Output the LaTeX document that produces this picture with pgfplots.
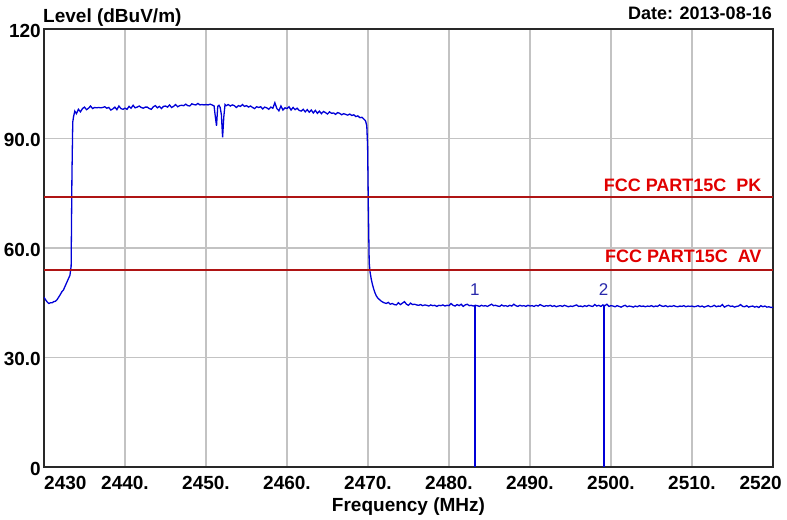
\documentclass[border=0pt]{standalone}
\usepackage{pgfplots}
\pgfplotsset{compat=1.18}
\usepackage{fontspec}
\setmainfont{Liberation Sans}
\definecolor{trace}{RGB}{0,0,215}
\definecolor{limline}{RGB}{175,20,20}
\definecolor{limtext}{RGB}{225,0,0}
\definecolor{gridc}{RGB}{195,195,195}
\definecolor{axc}{RGB}{40,40,40}
\definecolor{mk}{RGB}{40,40,170}
\newcommand{\bigb}{\fontsize{19bp}{22bp}\selectfont\bfseries}
\newcommand{\midb}{\fontsize{18bp}{21bp}\selectfont\bfseries}
\begin{document}
\begin{tikzpicture}
\begin{axis}[
  scale only axis, width=729bp, height=438bp,
  xmin=2430, xmax=2520, ymin=0, ymax=120,
  xtick={2430,2440,2450,2460,2470,2480,2490,2500,2510,2520},
  xticklabels={,2440.,2450.,2460.,2470.,2480.,2490.,2500.,2510.,},
  ytick={0,30,60,90,120},
  yticklabels={0,30.0,60.0,90.0,120},
  /pgf/number format/assume math mode=true,
  major tick length=0pt,
  grid=major,
  major grid style={gridc, line width=1.2bp},
  axis line style={axc, line width=1.6bp},
  xticklabel style={font=\bigb, anchor=north, inner sep=0pt, yshift=-9bp},
  yticklabel style={font=\bigb, anchor=east, inner sep=0pt, xshift=-3bp, yshift=-1.5bp},
  clip=true,
]
\addplot[trace, line width=1.3bp] coordinates {
(2430.0,46.5)(2430.2,45.8)(2430.4,45.2)(2430.6,44.8)(2430.8,45.0)(2431.0,45.0)(2431.2,45.3)(2431.4,45.4)(2431.6,45.8)(2431.8,46.5)
(2432.0,47.2)(2432.2,48.0)(2432.4,48.5)(2432.6,49.5)(2432.8,50.5)(2433.0,51.5)(2433.2,52.5)(2433.35,55)(2433.45,80)(2433.55,94.5)
(2433.65,96.0)(2433.8,97.5)
(2434.0,96.8)(2434.25,98.0)(2434.5,97.3)(2434.75,98.2)(2435.0,98.6)(2435.25,97.9)(2435.5,98.3)(2435.75,98.9)(2436.0,98.2)(2436.25,98.5)
(2436.5,98.4)(2436.75,98.5)(2437.0,98.4)(2437.25,98.5)(2437.5,98.7)(2437.75,98.3)(2438.0,98.5)(2438.25,97.8)(2438.5,98.1)(2438.75,98.6)
(2439.0,97.9)(2439.25,98.9)(2439.5,98.2)(2439.75,98.0)(2440.0,98.3)(2440.25,98.0)(2440.5,98.8)(2440.75,98.3)(2441.0,99.1)(2441.25,98.4)
(2441.5,98.6)(2441.75,98.9)(2442.0,98.5)(2442.25,98.3)(2442.5,98.6)(2442.75,98.6)(2443.0,98.2)(2443.25,98.0)(2443.5,98.7)(2443.75,99.0)
(2444.0,98.4)(2444.25,98.8)(2444.5,98.2)(2444.75,98.8)(2445.0,98.9)(2445.25,98.6)(2445.5,99.2)(2445.75,98.5)(2446.0,98.8)(2446.25,99.3)
(2446.5,98.7)(2446.75,99.0)(2447.0,99.1)(2447.25,99.0)(2447.5,99.4)(2447.75,99.0)(2448.0,98.9)(2448.25,99.5)(2448.5,99.3)(2448.75,99.2)
(2449.0,99.6)(2449.25,99.2)(2449.5,99.3)(2449.75,99.2)(2450.0,99.3)(2450.25,99.2)(2450.5,99.4)(2450.75,99.2)(2451.0,98.9)(2451.15,96.0)
(2451.3,93.5)(2451.45,98.8)(2451.6,99.1)(2451.75,98.5)(2451.9,96.5)(2452.05,90.3)(2452.2,96.0)(2452.35,99.3)(2452.5,99.0)(2452.75,99.3)
(2453.0,98.9)(2453.25,99.2)(2453.5,99.0)(2453.75,98.5)(2454.0,99.0)(2454.25,98.8)(2454.5,99.3)(2454.75,98.8)(2455.0,99.0)(2455.25,98.6)
(2455.5,98.9)(2455.75,98.5)(2456.0,98.2)(2456.25,98.7)(2456.5,98.5)(2456.75,98.7)(2457.0,98.1)(2457.25,98.6)(2457.5,98.4)(2457.75,98.0)
(2458.0,98.6)(2458.25,98.3)(2458.5,99.8)(2458.75,98.2)(2459.0,97.6)(2459.25,98.9)(2459.5,97.8)(2459.75,98.4)(2460.0,98.2)(2460.25,98.7)
(2460.5,97.8)(2460.75,98.5)(2461.0,97.9)(2461.25,98.3)(2461.5,97.7)(2461.75,97.5)(2462.0,98.0)(2462.25,97.3)(2462.5,97.9)(2462.75,97.2)
(2463.0,97.8)(2463.25,97.0)(2463.5,97.7)(2463.75,96.9)(2464.0,97.5)(2464.25,96.8)(2464.5,97.4)(2464.75,97.1)(2465.0,96.7)(2465.25,97.3)
(2465.5,96.9)(2465.75,97.0)(2466.0,96.6)(2466.25,97.1)(2466.5,96.9)(2466.75,96.5)(2467.0,96.8)(2467.25,96.6)(2467.5,96.4)(2467.75,96.7)
(2468.0,96.3)(2468.25,96.5)(2468.5,96.0)(2468.75,96.2)(2469.0,95.7)(2469.25,95.8)(2469.5,95.3)(2469.7,94.8)(2469.85,93.5)(2469.95,88)
(2470.05,70)(2470.15,56)(2470.25,53.5)(2470.4,51.5)(2470.55,50)(2470.7,48.8)(2470.85,47.8)(2471.0,47.0)(2471.2,46.3)(2471.4,45.9)
(2471.6,45.5)(2471.8,45.2)(2472.0,45.0)(2472.25,44.8)(2472.5,45.1)(2472.75,44.6)(2473.0,44.8)(2473.25,44.5)
(2473.5,44.4)(2473.75,45.0)(2474.0,44.5)(2474.25,44.9)(2474.5,45.3)(2474.75,44.6)(2475.0,44.3)(2475.25,44.9)(2475.5,44.5)(2475.75,44.6)
(2476.0,44.4)(2476.25,44.3)(2476.5,44.5)(2476.75,44.2)(2477.0,44.4)(2477.25,44.3)(2477.5,44.1)(2477.75,44.4)(2478.0,44.2)(2478.25,44.3)
(2478.5,44.0)(2478.75,44.3)(2479.0,44.2)(2479.25,44.4)(2479.5,44.1)(2479.75,44.3)(2480.0,44.2)(2480.25,44.8)(2480.5,44.3)(2480.75,44.1)
(2481.0,44.5)(2481.25,44.2)(2481.5,44.6)(2481.75,44.0)(2482.0,44.4)(2482.25,44.6)(2482.5,44.2)(2482.75,44.3)(2483.0,44.1)(2483.25,44.3)
(2483.5,44.2)(2483.75,44.0)(2484.0,44.3)(2484.25,44.1)(2484.5,44.2)(2484.75,44.0)(2485.0,44.3)(2485.25,44.6)(2485.5,44.2)(2485.75,44.3)
(2486.0,44.1)(2486.25,44.0)(2486.5,44.4)(2486.75,44.1)(2487.0,44.2)(2487.25,44.0)(2487.5,44.3)(2487.75,44.1)(2488.0,44.6)(2488.25,44.2)
(2488.5,44.0)(2488.75,44.3)(2489.0,44.1)(2489.25,44.2)(2489.5,44.0)(2489.75,44.3)(2490.0,44.1)(2490.25,44.2)(2490.5,44.0)(2490.75,44.3)
(2491.0,44.1)(2491.25,44.5)(2491.5,44.2)(2491.75,44.0)(2492.0,44.2)(2492.25,44.1)(2492.5,44.3)(2492.75,44.0)(2493.0,44.2)(2493.25,43.9)
(2493.5,44.1)(2493.75,44.2)(2494.0,44.0)(2494.25,44.3)(2494.5,44.1)(2494.75,43.9)(2495.0,44.1)(2495.25,44.0)(2495.5,44.2)(2495.75,44.4)
(2496.0,44.0)(2496.25,44.1)(2496.5,43.9)(2496.75,44.2)(2497.0,44.0)(2497.25,44.3)(2497.5,44.1)(2497.75,44.0)(2498.0,44.5)(2498.25,44.1)
(2498.5,44.3)(2498.75,44.0)(2499.0,44.4)(2499.25,44.2)(2499.5,44.6)(2499.75,44.0)(2500.0,44.2)(2500.25,44.1)(2500.5,43.9)(2500.75,44.2)
(2501.0,44.0)(2501.25,43.8)(2501.5,44.1)(2501.75,44.3)(2502.0,43.9)(2502.25,44.1)(2502.5,44.0)(2502.75,43.8)(2503.0,44.1)(2503.25,43.9)
(2503.5,44.2)(2503.75,44.0)(2504.0,44.1)(2504.25,43.9)(2504.5,44.1)(2504.75,44.0)(2505.0,44.2)(2505.25,43.9)(2505.5,44.1)(2505.75,44.0)
(2506.0,44.4)(2506.25,44.1)(2506.5,44.0)(2506.75,44.2)(2507.0,43.9)(2507.25,44.1)(2507.5,44.0)(2507.75,44.2)(2508.0,44.0)(2508.25,43.9)
(2508.5,44.1)(2508.75,44.0)(2509.0,44.2)(2509.25,43.9)(2509.5,44.1)(2509.75,44.0)(2510.0,44.1)(2510.25,43.9)(2510.5,44.0)(2510.75,44.2)
(2511.0,43.9)(2511.25,44.1)(2511.5,43.8)(2511.75,44.0)(2512.0,44.2)(2512.25,43.9)(2512.5,44.0)(2512.75,44.3)(2513.0,43.9)(2513.25,44.1)
(2513.5,44.0)(2513.75,44.5)(2514.0,43.8)(2514.25,44.1)(2514.5,44.3)(2514.75,44.0)(2515.0,44.1)(2515.25,43.8)(2515.5,44.0)(2515.75,44.1)
(2516.0,44.5)(2516.25,44.0)(2516.5,43.9)(2516.75,44.2)(2517.0,43.8)(2517.25,44.0)(2517.5,44.1)(2517.75,43.8)(2518.0,44.0)(2518.25,43.7)
(2518.5,44.2)(2518.75,43.9)(2519.0,44.1)(2519.25,43.8)(2519.5,43.9)(2519.75,43.7)(2520.0,43.8)
};
% limit lines
\addplot[limline, line width=1.5bp] coordinates {(2430,74)(2520,74)};
\addplot[limline, line width=1.5bp] coordinates {(2430,54)(2520,54)};
% markers
\addplot[trace, line width=1.6bp] coordinates {(2483.2,0)(2483.2,44.2)};
\addplot[trace, line width=1.6bp] coordinates {(2499.1,0)(2499.1,44.3)};
\node[mk, font=\fontsize{17bp}{20bp}\selectfont, anchor=base, inner sep=0pt] at (axis cs:2483.2,46.9) {1};
\node[mk, font=\fontsize{17bp}{20bp}\selectfont, anchor=base, inner sep=0pt] at (axis cs:2499.1,46.9) {2};
% limit labels
\node[limtext, font=\midb, anchor=base east, inner sep=0pt] at (axis cs:2518.6,75.6) {FCC PART15C\ \ PK};
\node[limtext, font=\midb, anchor=base east, inner sep=0pt] at (axis cs:2518.6,55.9) {FCC PART15C\ \ AV};
\end{axis}
% labels outside the axis box (axis box: (0,0) to (729bp,438bp))
\node[font=\bigb, anchor=base west, inner sep=0pt] at (-1bp,444bp) {Level (dBuV/m)};
\node[font=\midb, anchor=base east, inner sep=0pt] at (728bp,447bp) {Date: 2013-08-16};
\node[font=\bigb, anchor=base, inner sep=0pt] at (364.5bp,-44bp) {Frequency (MHz)};
\node[font=\bigb, anchor=north west, inner sep=0pt] at (0bp,-9bp) {2430};
\node[font=\bigb, anchor=north east, inner sep=0pt] at (738bp,-9bp) {2520};
\pgfresetboundingbox
\path (-44bp,-53bp) rectangle (743bp,467bp);
\end{tikzpicture}
\end{document}
